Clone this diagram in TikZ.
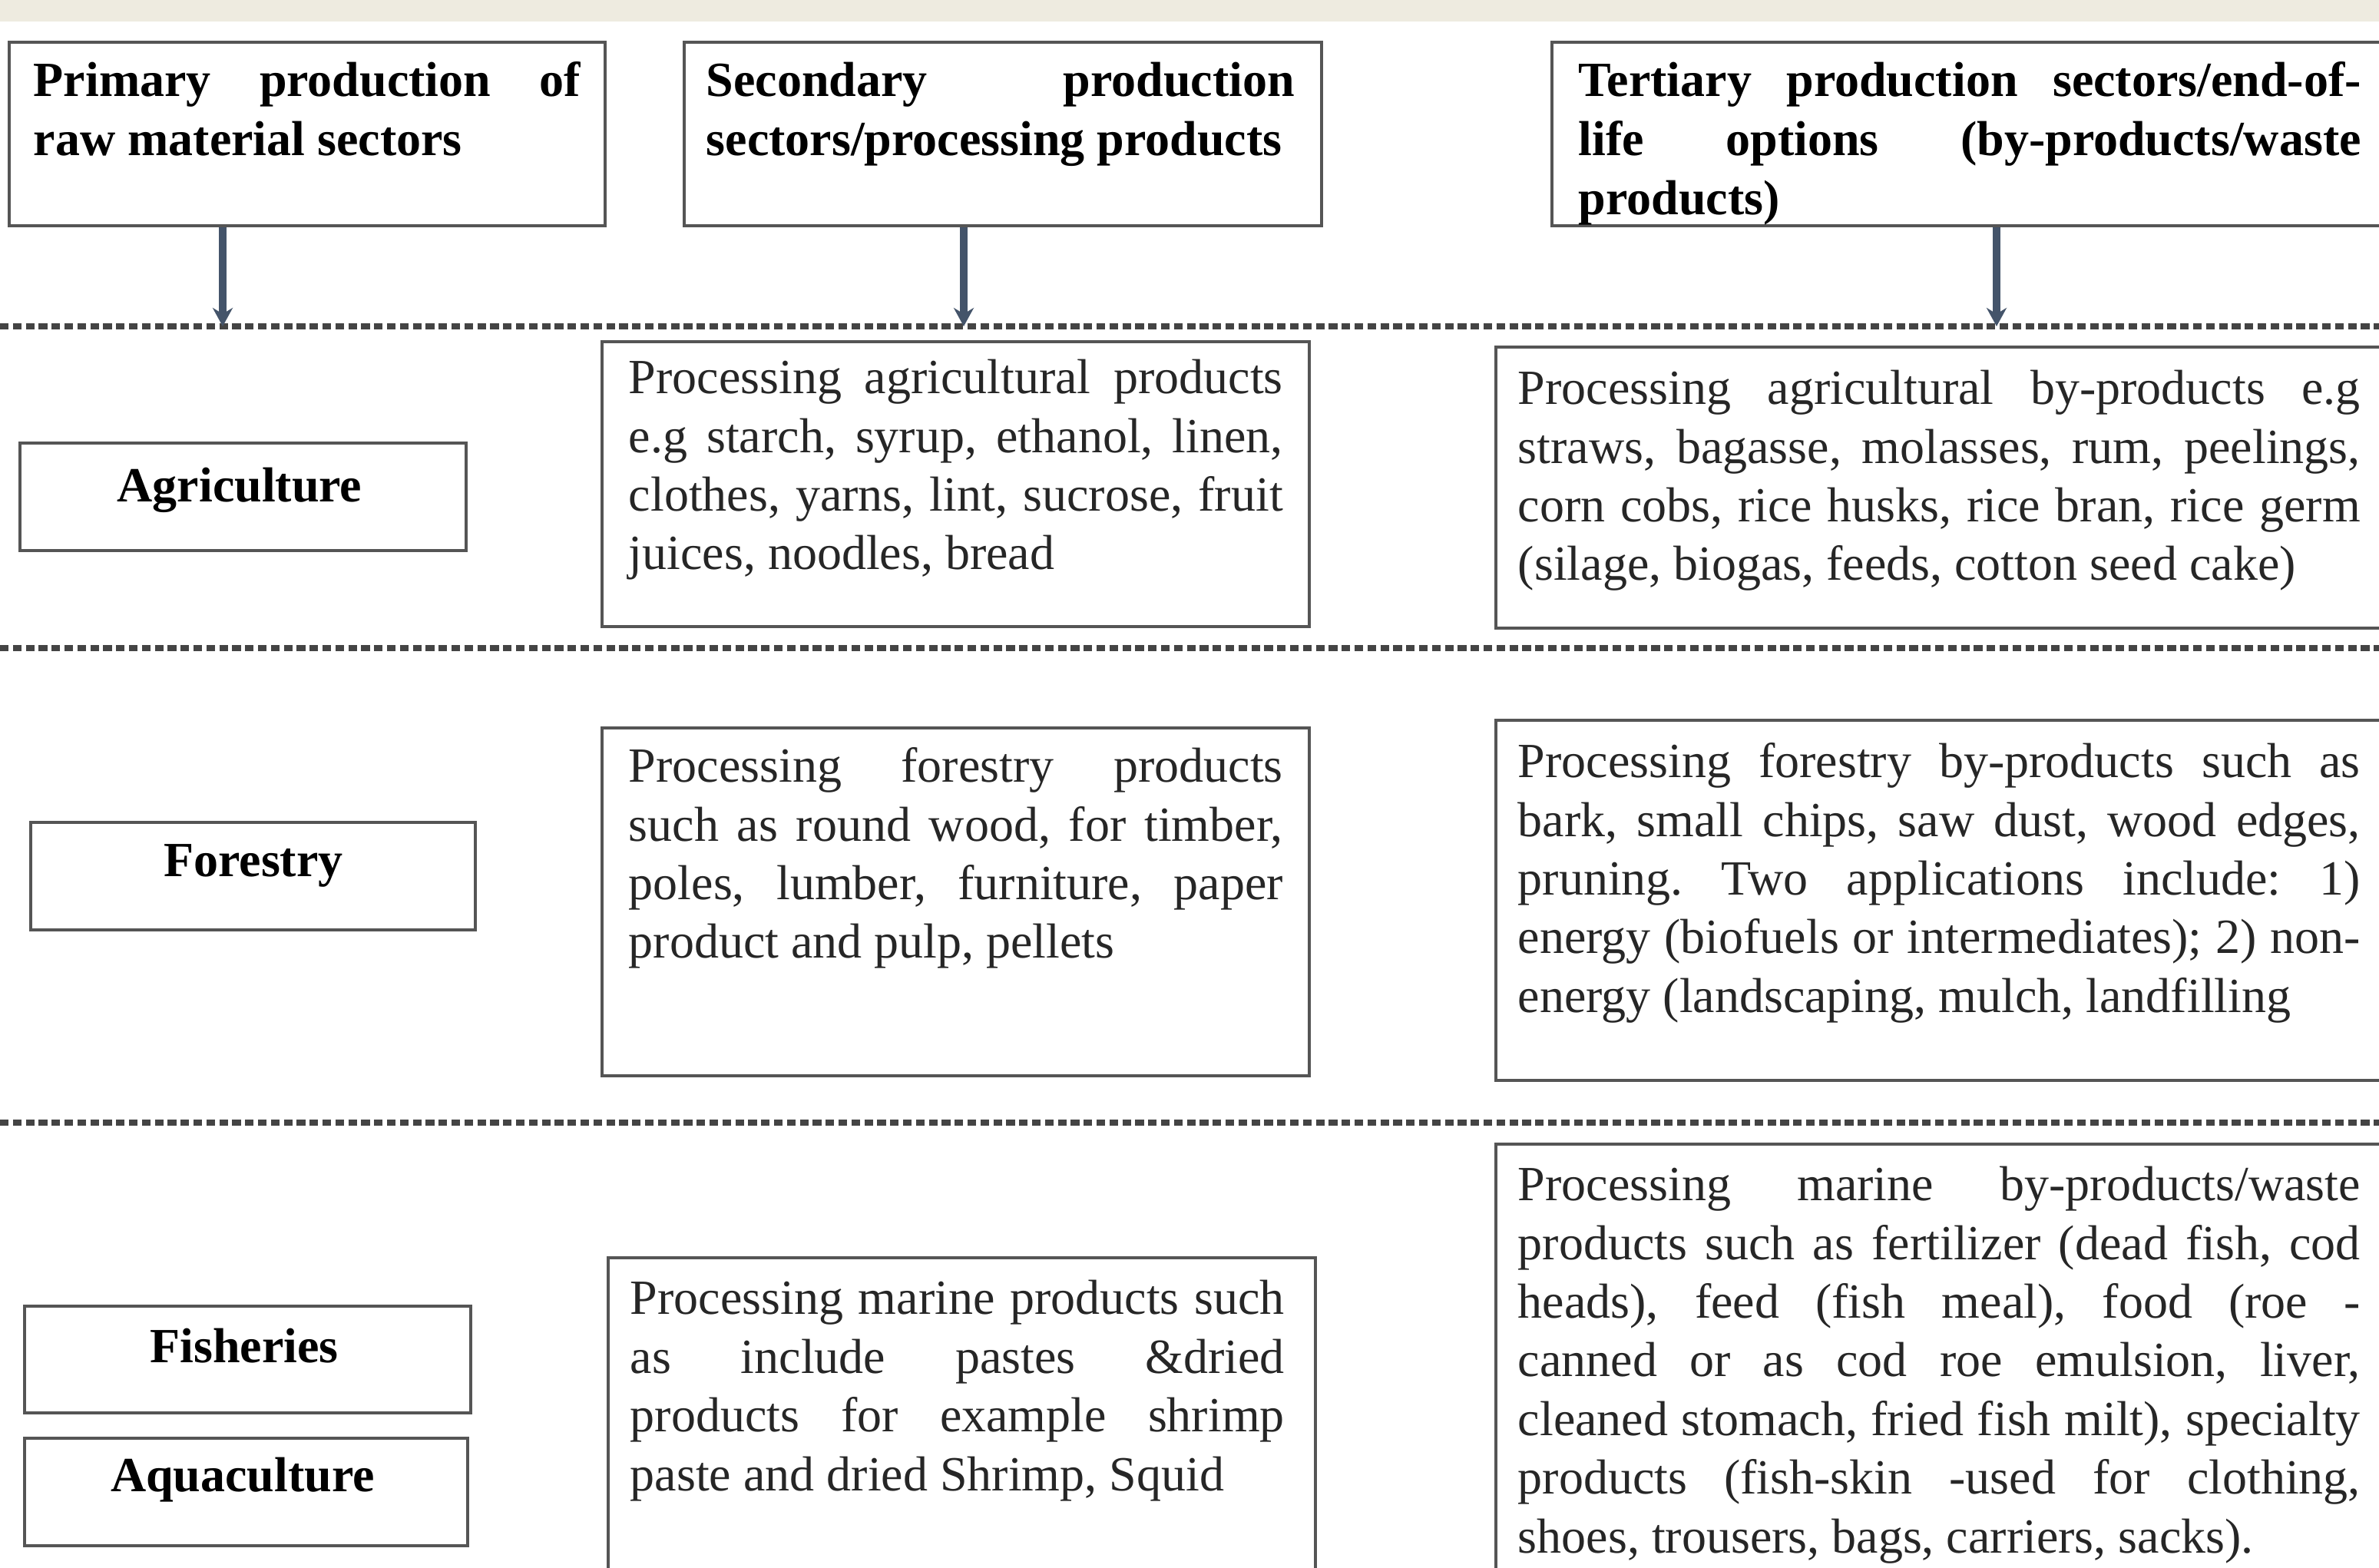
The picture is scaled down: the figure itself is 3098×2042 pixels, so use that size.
\documentclass[tikz,border=0pt]{standalone}
\usepackage{fontspec}
\setmainfont{Liberation Serif}
\usetikzlibrary{arrows.meta,calc}
\newcommand\jl[1]{\makebox[\hsize][s]{#1}}
\newcommand\firstl{\frenchspacing\spaceskip=0pt \xspaceskip=0pt \rule{0pt}{13pt}}
\definecolor{band}{HTML}{EEEBE0}
\definecolor{arrowc}{HTML}{44546A}
\definecolor{boxc}{HTML}{555555}
\definecolor{sepc}{HTML}{444444}
\begin{document}
\begin{tikzpicture}[x=0.25pt,y=-0.25pt,
  box/.style={draw=boxc, line width=1.1pt, fill=white, inner sep=0pt, anchor=north west},
  body/.style={anchor=north west, inner sep=0pt, text width=#1, align=left,
    font=\fontsize{16}{19.1}\selectfont, text=black!85},
  head/.style={anchor=north west, inner sep=0pt, text width=#1, align=left,
    font=\fontsize{16}{19.25}\selectfont\bfseries},
  lbl/.style={anchor=base, inner sep=0pt, font=\fontsize{16}{19}\selectfont\bfseries},
  sep/.style={draw=sepc, line width=1.8pt, dash pattern=on 2.8pt off 1.4pt},
  arr/.style={draw=arrowc, line width=2.4pt, -{Stealth[length=6pt,width=6.5pt]}}
]
\useasboundingbox (0,0) rectangle (3098,2042);
\fill[white] (0,0) rectangle (3098,2042);
\fill[band] (0,0) rectangle (3098,28);

% separators
\coordinate (l1w) at (0,425);   \coordinate (l1e) at (3098,425);
\coordinate (l2w) at (0,844);   \coordinate (l2e) at (3098,844);
\coordinate (l3w) at (0,1462);  \coordinate (l3e) at (3098,1462);
\draw[sep] (l1w) -- (l1e);
\draw[sep] (l2w) -- (l2e);
\draw[sep] (l3w) -- (l3e);

% header boxes
\node[box, minimum width=194pt, minimum height=59.75pt] (h1) at (10,53) {};
\node[box, minimum width=207.5pt, minimum height=59.75pt] (h2) at (889,53) {};
\node[box, minimum width=272.75pt, minimum height=59.75pt] (h3) at (2019,53) {};
\node[head=178pt] (h1t) at (43,73) {\firstl\jl{Primary production of}\\raw material sectors};
\node[head=191.5pt] (h2t) at (919,73) {\firstl\jl{Secondary production}\\sectors/processing products};
\node[head=254.75pt] (h3t) at (2055,73) {\firstl\jl{Tertiary production sectors/end-of-}\\\jl{life options (by-products/waste}\\products)};

% arrows
\coordinate (a1) at (290,425);
\coordinate (a2) at (1255,425);
\coordinate (a3) at (2600,425);
\draw[arr] (h1.south -| a1) -- (a1);
\draw[arr] (h2.south -| a2) -- (a2);
\draw[arr] (h3.south -| a3) -- (a3);

% row 1
\node[box, minimum width=145.25pt, minimum height=35pt] (agri) at (24,575) {};
\node[lbl] (agrit) at (312,654) {Agriculture};
\node[box, minimum width=230.25pt, minimum height=92.75pt] (s1) at (782,443) {};
\node[body=213pt] (s1t) at (818,460) {\firstl\jl{Processing agricultural products}\\\jl{e.g starch, syrup, ethanol, linen,}\\\jl{clothes, yarns, lint, sucrose, fruit}\\juices, noodles, bread};
\node[box, minimum width=291pt, minimum height=91.5pt] (t1) at (1946,450) {};
\node[body=274.25pt] (t1t) at (1976,474) {\firstl\jl{Processing agricultural by-products e.g}\\\jl{straws, bagasse, molasses, rum, peelings,}\\\jl{corn cobs, rice husks, rice bran, rice germ}\\(silage, biogas, feeds, cotton seed cake)};

% row 2
\node[box, minimum width=144.75pt, minimum height=35pt] (fore) at (38,1069) {};
\node[lbl] (foret) at (330,1142) {Forestry};
\node[box, minimum width=230.25pt, minimum height=113.25pt] (s2) at (782,946) {};
\node[body=213pt] (s2t) at (818,966) {\firstl\jl{Processing forestry products}\\\jl{such as round wood, for timber,}\\\jl{poles, lumber, furniture, paper}\\product and pulp, pellets};
\node[box, minimum width=291pt, minimum height=117.25pt] (t2) at (1946,936) {};
\node[body=274.25pt] (t2t) at (1976,960) {\firstl\jl{Processing forestry by-products such as}\\\jl{bark, small chips, saw dust, wood edges,}\\\jl{pruning. Two applications include: 1)}\\\jl{energy (biofuels or intermediates); 2) non-}\\energy (landscaping, mulch, landfilling};

% row 3
\node[box, minimum width=145.25pt, minimum height=34.75pt] (fish) at (30,1699) {};
\node[lbl] (fisht) at (318,1774) {Fisheries};
\node[box, minimum width=144.25pt, minimum height=35pt] (aqua) at (30,1871) {};
\node[lbl] (aquat) at (316,1942) {Aquaculture};
\node[box, minimum width=230.25pt, minimum height=106pt] (s3) at (790,1636) {};
\node[body=213pt] (s3t) at (820,1659) {\firstl\jl{Processing marine products such}\\\jl{as include pastes \&dried}\\\jl{products for example shrimp}\\paste and dried Shrimp, Squid};
\node[box, minimum width=291pt, minimum height=143pt] (t3) at (1946,1488) {};
\node[body=274.25pt] (t3t) at (1976,1511) {\firstl\jl{Processing marine by-products/waste}\\\jl{products such as fertilizer (dead fish, cod}\\\jl{heads), feed (fish meal), food (roe -}\\\jl{canned or as cod roe emulsion, liver,}\\\jl{cleaned stomach, fried fish milt), specialty}\\\jl{products (fish-skin -used for clothing,}\\shoes, trousers, bags, carriers, sacks).};
\end{tikzpicture}
\end{document}
